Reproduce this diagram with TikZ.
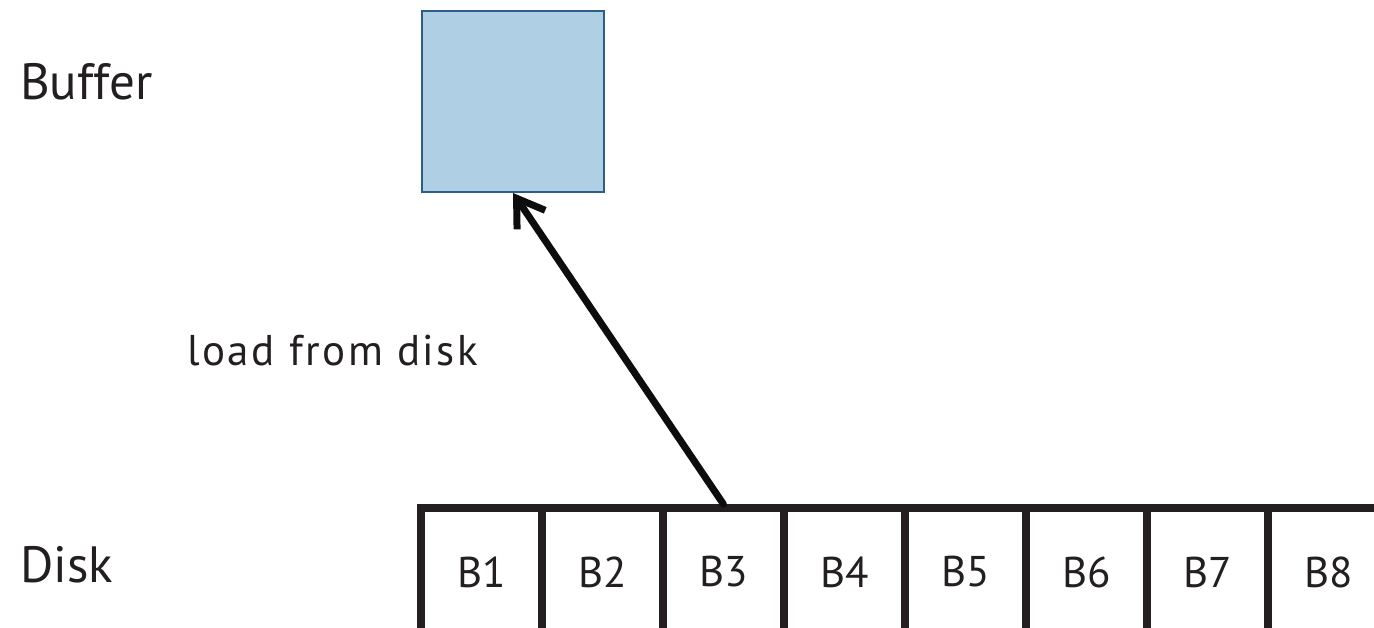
\documentclass[tikz,border=0pt]{standalone}
\usepackage{fontspec}
\setmainfont{PT Sans}
\newfontfamily\spacedfont[LetterSpace=6]{PT Sans}
\usetikzlibrary{arrows.meta}

\definecolor{bufferfill}{HTML}{AFCFE4}
\definecolor{bufferline}{HTML}{2E5E85}
\definecolor{diskline}{HTML}{231F20}

\begin{document}
\begin{tikzpicture}[x=1pt,y=-1pt,
    block/.style={draw=diskline,line width=7.5pt,minimum width=121pt,minimum height=128pt,inner sep=0pt,font=\fontsize{43}{43}\selectfont,text=diskline},
    lbl/.style={anchor=base west,inner sep=0pt,font=\fontsize{51}{51}\selectfont,text=diskline}]
    \clip (0,0) rectangle (1374,627);

    \node [lbl] (bufferlbl) at (20,99) {Buffer};
    \node [lbl] (disklbl) at (20,582) {Disk};

    \node [draw=bufferline,fill=bufferfill,line width=2pt,minimum width=182pt,minimum height=181pt,anchor=north west] (buf) at (421,10) {};

    % disk blocks
    \foreach \i in {1,...,8}
        \node [block] (b\i) at ({421+121*(\i-0.5)},572) {B\i};

    \draw [-{Straight Barb[length=26pt,width=34pt]},line width=7pt,line cap=round,black!95] (b3.north) -- (buf.south);
    \node [anchor=base west,inner sep=0pt,font=\fontsize{43}{43}\selectfont\spacedfont,text=diskline] (loadlbl) at (187,365) {load from disk};
\end{tikzpicture}
\end{document}
